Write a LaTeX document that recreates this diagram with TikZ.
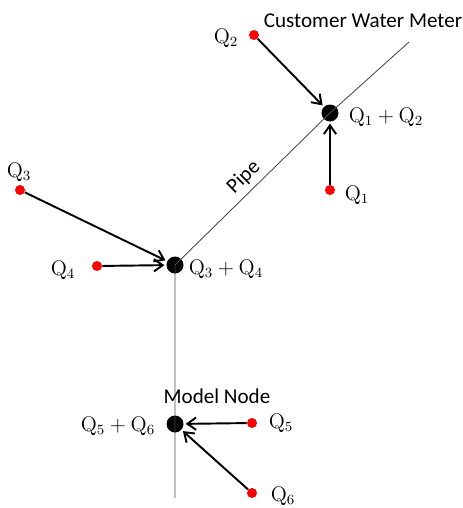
\documentclass[tikz,border=0pt]{standalone}
\usepackage{amsmath}
\usepackage{fontspec}
\setsansfont{Carlito}
\usepackage{tikz}
\usetikzlibrary{calc,arrows.meta}

\begin{document}
\begin{tikzpicture}[x=0.02cm,y=-0.02cm,
    junction/.style={circle,fill=black,inner sep=0pt,minimum size=17*0.02cm},
    meter/.style={circle,fill=red,inner sep=0pt,minimum size=10*0.02cm},
    flow/.style={-{Straight Barb[length=5pt,width=7pt]},line width=1.1pt,shorten >=1pt},
    pipe/.style={draw=black!70,line width=0.5pt},
    qlab/.style={inner sep=0pt,font=\large},
    txt/.style={inner sep=0pt,font=\sffamily\large}]
\useasboundingbox (0,0) rectangle (463,508);

% model nodes
\node[junction] (n12) at (330,113) {};
\node[junction] (n34) at (175,265) {};
\node[junction] (n56) at (175,424) {};
\coordinate (ptop) at (409,42);
\coordinate (pbot) at (175,498);

% pipe
\draw[pipe] (ptop) -- (n12.center) -- (n34.center) -- (pbot);
\path (n12.center) -- (n34.center) node[pos=0.49,sloped,above=3pt,txt] (pipelab) {Pipe};

% customer meters
\node[meter] (q1) at (330,190) {};
\node[meter] (q2) at (254,35) {};
\node[meter] (q3) at (20,190) {};
\node[meter] (q4) at (97,266) {};
\node[meter] (q5) at (252,423) {};
\node[meter] (q6) at (252,493) {};

\draw[flow] (q1) -- (n12);
\draw[flow] (q2) -- (n12);
\draw[flow] (q3) -- (n34);
\draw[flow] (q4) -- (n34);
\draw[flow] (q5) -- (n56);
\draw[flow] (q6) -- (n56);

% labels
\node[qlab] (l1) at (357,195) {$\mathrm{Q}_1$};
\node[qlab] (l2) at (226,38) {$\mathrm{Q}_2$};
\node[qlab] (l3) at (19,172) {$\mathrm{Q}_3$};
\node[qlab] (l4) at (63,270) {$\mathrm{Q}_4$};
\node[qlab] (l5) at (281,423) {$\mathrm{Q}_5$};
\node[qlab] (l6) at (283,496) {$\mathrm{Q}_6$};
\node[qlab] (l12) at (386,117) {$\mathrm{Q}_1+\mathrm{Q}_2$};
\node[qlab] (l34) at (226,269) {$\mathrm{Q}_3+\mathrm{Q}_4$};
\node[qlab] (l56) at (118,426) {$\mathrm{Q}_5+\mathrm{Q}_6$};

\node[txt] (cwm) at (363,21) {Customer Water Meter};
\node[txt] (mn) at (217,396) {Model Node};

\end{tikzpicture}
\end{document}
